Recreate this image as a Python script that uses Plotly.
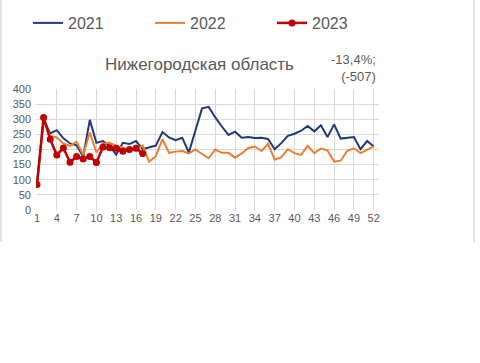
import plotly.graph_objects as go

weeks = list(range(1, 53))
tick_weeks = list(range(1, 53, 3))

y2021 = [86, 300, 253, 264, 237, 220, 214, 176, 298, 222, 228, 212, 183, 222, 218, 228,
         201, 206, 213, 258, 240, 231, 239, 190, 262, 336, 341, 306, 276, 248, 259, 239,
         241, 238, 239, 235, 201, 221, 245, 252, 262, 278, 260, 280, 241, 283, 236, 238,
         241, 201, 228, 210]
y2022 = [84, 298, 245, 240, 220, 212, 226, 182, 256, 190, 220, 222, 212, 207, 200, 200,
         213, 160, 178, 234, 189, 193, 195, 187, 200, 185, 171, 200, 189, 189, 173, 187,
         205, 210, 195, 219, 166, 175, 201, 188, 182, 212, 188, 203, 197, 160, 163, 196,
         204, 188, 198, 210]
y2023 = [84, 306, 234, 182, 205, 158, 177, 169, 177, 157, 208, 206, 204, 194, 200, 204, 187]

title_text = "Нижегородская область"
change_text = "-13,4%;<br>(-507)"

GRAY = "#595959"
GRID = "#D9D9D9"
FONT = "Liberation Sans, Arial, sans-serif"

fig = go.Figure()
fig.add_trace(go.Scatter(x=weeks, y=y2021, name="2021", mode="lines", legend="legend",
                         line=dict(color="#1F3A78", width=2)))
fig.add_trace(go.Scatter(x=weeks, y=y2022, name="2022", mode="lines", legend="legend2",
                         line=dict(color="#ED7D31", width=2)))
fig.add_trace(go.Scatter(x=weeks[:len(y2023)], y=y2023, name="2023", mode="lines+markers",
                         legend="legend3",
                         line=dict(color="#C00000", width=2.5),
                         marker=dict(color="#C00000", size=7)))

PL, PW, PT, PB = 36, 343, 89, 210  # plot area pixels
def px(xp):
    return (xp - PL) / PW
def py(yp):
    return (PB - yp) / (PB - PT)

leg_common = dict(orientation="h", xanchor="left", yanchor="middle", y=py(23),
                  font=dict(size=16, color=GRAY), bgcolor="rgba(0,0,0,0)")

fig.update_layout(
    width=480, height=363,
    margin=dict(l=PL, r=480 - PL - PW, t=PT, b=363 - PB, autoexpand=False),
    paper_bgcolor="white", plot_bgcolor="white",
    font=dict(family=FONT, color=GRAY, size=11),
    showlegend=True,
    legend=dict(x=px(28), **leg_common),
    legend2=dict(x=px(150), **leg_common),
    legend3=dict(x=px(272), **leg_common),
    xaxis=dict(range=[0.85, 52.8], tickmode="array", tickvals=tick_weeks,
               showgrid=True, gridcolor=GRID, gridwidth=1, zeroline=False,
               showline=False, ticks="", tickfont=dict(size=11, color=GRAY)),
    yaxis=dict(range=[0, 400], dtick=50, showgrid=True, gridcolor=GRID, gridwidth=1,
               zeroline=False, showline=False, ticks="", ticklabelstandoff=4,
               tickfont=dict(size=11, color=GRAY)),
    annotations=[
        dict(text=title_text, xref="paper", yref="paper", x=px(199), y=py(64),
             xanchor="center", yanchor="middle", showarrow=False,
             font=dict(size=17, color=GRAY, family=FONT)),
        dict(text=change_text, xref="paper", yref="paper", x=px(378), y=py(68),
             xanchor="right", yanchor="middle", align="right", showarrow=False,
             font=dict(size=13, color=GRAY, family=FONT)),
    ],
    shapes=[
        dict(type="line", xref="paper", yref="paper", x0=px(1), x1=px(1),
             y0=py(242), y1=py(0), line=dict(color=GRID, width=1.5)),
        dict(type="line", xref="paper", yref="paper", x0=px(474), x1=px(474),
             y0=py(242), y1=py(0), line=dict(color=GRID, width=1.5)),
    ],
)

fig.write_html("out.html", config={"displayModeBar": False},
               post_script="document.body.style.margin='0';")
